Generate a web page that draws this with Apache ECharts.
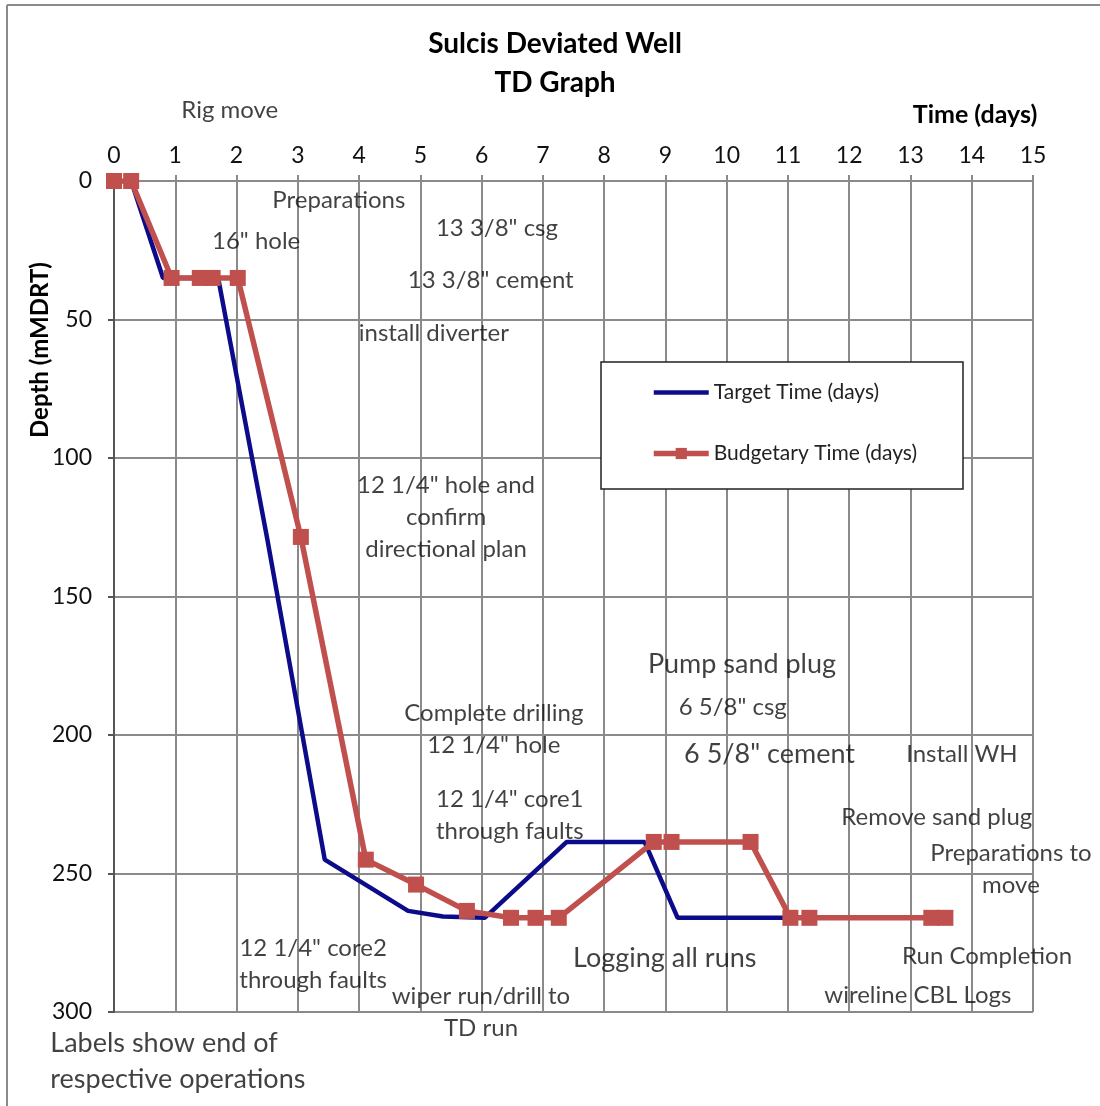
<!DOCTYPE html>
<html>
<head>
<meta charset="utf-8">
<script src="https://cdn.jsdelivr.net/npm/echarts@6/dist/echarts.min.js"></script>
<style>html,body{margin:0;padding:0;background:#fff;}#c{width:1100px;height:1106px;}</style>
</head>
<body>
<div id="c"></div>
<script>
// ---- data ----
const xTicks = [0,1,2,3,4,5,6,7,8,9,10,11,12,13,14,15];
const yTicks = [0,50,100,150,200,250,300];
const targetTime  = [0, 0.28, 0.8, 1.7, 2.5, 3.44, 4.8, 5.37, 6.05, 7.39, 8.66, 9.2, 10.97];
const targetDepth = [0, 0, 35, 35, 129, 245, 263.5, 265.5, 266, 238.6, 238.6, 266, 266];
const budgetTime  = [0, 0.28, 0.94, 1.4, 1.61, 2.02, 3.05, 4.11, 4.93, 5.76, 6.48, 6.88, 7.26, 8.81, 9.1, 10.39, 11.04, 11.35, 13.34, 13.57];
const budgetDepth = [0, 0, 35, 35, 35, 35, 128.5, 245, 254, 263.5, 266, 266, 266, 238.6, 238.6, 238.6, 266, 266, 266, 266];
const seriesNames = ['Target Time (days)', 'Budgetary Time (days)'];
// operation labels: [time, depth, text]
const opLabels = [
  [1.89, -25.6, 'Rig move'],
  [3.67, 6.9, 'Preparations'],
  [2.32, 21.7, '16" hole'],
  [6.25, 17, '13 3/8" csg'],
  [6.15, 35.7, '13 3/8" cement'],
  [5.22, 54.9, 'install diverter'],
  [5.42, 121.3, '12 1/4" hole and\nconfirm\ndirectional plan'],
  [6.2, 198, 'Complete drilling\n12 1/4" hole'],
  [6.46, 229, '12 1/4" core1\nthrough faults'],
  [10.1, 190, '6 5/8" csg'],
  [13.84, 207, 'Install WH'],
  [13.43, 229.6, 'Remove sand plug'],
  [14.64, 248.4, 'Preparations to\nmove'],
  [14.25, 280, 'Run Completion'],
  [13.12, 294, 'wireline CBL Logs'],
  [3.25, 282.7, '12 1/4" core2\nthrough faults'],
  [5.99, 300, 'wiper run/drill to\nTD run']
];
const bigLabels = [
  [10.25, 174.4, 'Pump sand plug'],
  [10.7, 207, '6 5/8" cement'],
  [8.99, 280.5, 'Logging all runs']
];
const noteLabel = [[-1.04, 317.7, 'Labels show end of\nrespective operations']];

const FONT = 'Lato';
const chart = echarts.init(document.getElementById('c'));
const zip = (xs, ys) => xs.map((x, i) => [x, ys[i]]);
const labelSeries = (arr, size, pos, lh) => ({
  type: 'scatter', silent: true, clip: false, symbolSize: 0,
  data: arr.map(d => ({value: [d[0], d[1]], name: d[2]})),
  label: {show: true, position: pos, distance: 0, formatter: p => p.name,
    fontFamily: FONT, fontSize: size, color: '#111', lineHeight: lh,
    align: pos === 'right' ? 'left' : 'center'},
  z: 5
});

chart.setOption({
  animation: false,
  backgroundColor: '#fff',
  textStyle: {fontFamily: FONT},
  grid: {left: 114, top: 181, width: 919, height: 831},
  graphic: [
    {type: 'line', shape: {x1: 7, y1: 5, x2: 7, y2: 1106}, style: {stroke: '#8a8a8a', lineWidth: 2}},
    {type: 'line', shape: {x1: 7, y1: 5, x2: 1100, y2: 5}, style: {stroke: '#8a8a8a', lineWidth: 2}},
    {type: 'text', x: 555, y: 30, style: {text: 'Sulcis Deviated Well', font: 'bold 28px Lato', fill: '#000', align: 'center', textAlign: 'center'}},
    {type: 'text', x: 555, y: 69, style: {text: 'TD Graph', font: 'bold 28px Lato', fill: '#000', align: 'center', textAlign: 'center'}},
    {type: 'text', x: 975, y: 102, style: {text: 'Time (days)', font: 'bold 25px Lato', fill: '#000', align: 'center', textAlign: 'center'}},
    {type: 'text', x: 28, y: 438, rotation: Math.PI / 2, style: {text: 'Depth (mMDRT)', font: 'bold 24px Lato', fill: '#000'}},
    {type: 'rect', z: 3, shape: {x: 601, y: 362, width: 362, height: 127}, style: {fill: '#fff', stroke: '#222', lineWidth: 1.5}}
  ],
  legend: {
    orient: 'vertical', left: 651, top: 382,
    itemWidth: 55, itemHeight: 14, itemGap: 40, padding: 0, z: 6,
    data: [
      {name: seriesNames[0], itemStyle: {opacity: 0}, lineStyle: {width: 4.5, color: '#0c0c8a'}},
      {name: seriesNames[1], lineStyle: {width: 5.5, color: '#c0504d'}}
    ],
    textStyle: {fontFamily: FONT, fontSize: 21, color: '#222'}
  },
  xAxis: {
    type: 'value', position: 'top', min: 0, max: 15, interval: 1,
    axisLine: {show: true, lineStyle: {color: '#8a8a8a', width: 2}},
    axisTick: {show: true, length: 6, lineStyle: {color: '#8a8a8a', width: 2}},
    axisLabel: {fontFamily: FONT, fontSize: 23, color: '#111', margin: 14,
      formatter: v => xTicks.includes(v) ? String(v) : ''},
    splitLine: {show: true, lineStyle: {color: '#8a8a8a', width: 2}}
  },
  yAxis: {
    type: 'value', inverse: true, min: 0, max: 300, interval: 50,
    axisLine: {show: true, lineStyle: {color: '#555', width: 2}},
    axisTick: {show: true, length: 6, lineStyle: {color: '#555', width: 2}},
    axisLabel: {fontFamily: FONT, fontSize: 23, color: '#111', margin: 22,
      formatter: v => yTicks.includes(v) ? String(v) : ''},
    splitLine: {show: true, lineStyle: {color: '#8a8a8a', width: 2}}
  },
  series: [
    {name: seriesNames[0], type: 'line', data: zip(targetTime, targetDepth),
      showSymbol: false, symbol: 'none', color: '#0c0c8a',
      lineStyle: {width: 4.5, color: '#0c0c8a'}, z: 2},
    {name: seriesNames[1], type: 'line', data: zip(budgetTime, budgetDepth),
      symbol: 'rect', symbolSize: 16, color: '#c0504d',
      itemStyle: {color: '#c0504d'},
      lineStyle: {width: 5.5, color: '#c0504d'}, z: 3},
    labelSeries(opLabels, 24, 'inside', 32),
    labelSeries(bigLabels, 27, 'inside', 36),
    labelSeries(noteLabel, 27, 'right', 36)
  ]
});
</script>
</body>
</html>
